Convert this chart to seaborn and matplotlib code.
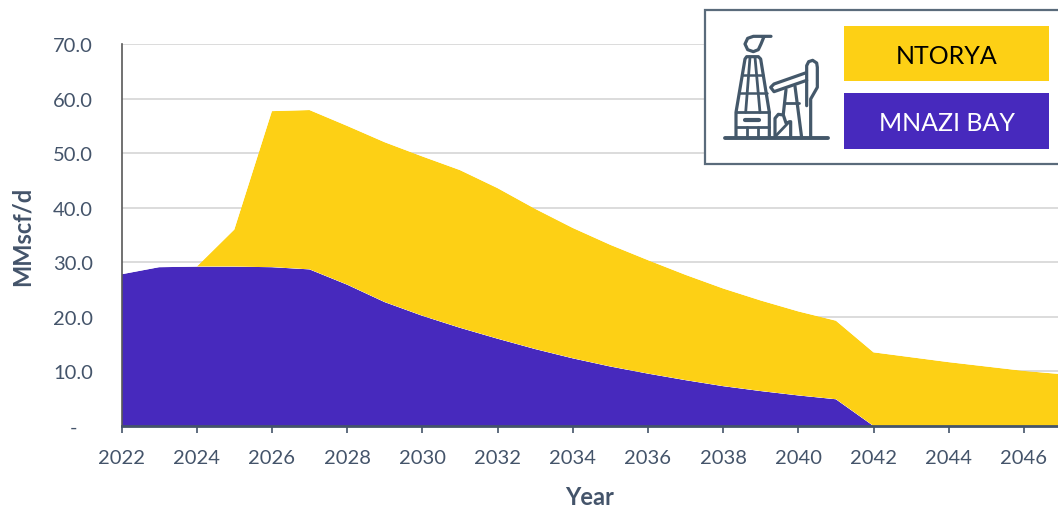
import numpy as np
import pandas as pd
import matplotlib
matplotlib.use('Agg')
import matplotlib.pyplot as plt
from matplotlib.patches import Rectangle
import seaborn as sns
import seaborn.objects as so

years = list(range(2022, 2048))
mnazi_bay = [27.8, 29.1, 29.2, 29.2, 29.1, 28.7, 25.9, 22.7, 20.2, 18.0, 16.0, 14.1, 12.4,
             10.9, 9.6, 8.4, 7.3, 6.4, 5.6, 4.9, 0, 0, 0, 0, 0, 0]
ntorya = [0, 0, 0, 6.8, 28.6, 29.2, 29.1, 29.3, 29.2, 28.9, 27.6, 25.7, 23.9,
          22.3, 20.8, 19.3, 17.9, 16.6, 15.4, 14.4, 13.5, 12.6, 11.7, 10.9, 10.1, 9.5]
y_ticks = [0, 10, 20, 30, 40, 50, 60, 70]
y_labels = ['-   ', '10.0', '20.0', '30.0', '40.0', '50.0', '60.0', '70.0']
x_ticks = list(range(2022, 2047, 2))

YELLOW = '#FDD015'
PURPLE = '#4729BD'
SLATE = '#44546A'
ICON = '#44586A'

sns.set_style('white')
plt.rcParams['font.family'] = ['Lato', 'DejaVu Sans']

df = pd.DataFrame({
    'year': years * 2,
    'value': mnazi_bay + ntorya,
    'field': ['MNAZI BAY'] * len(years) + ['NTORYA'] * len(years),
})

fig = plt.figure(figsize=(10.58, 5.06), dpi=100)
# axes placed in pixels so the year spacing matches the reference (cut at the right edge)
ax = fig.add_axes([121.5 / 1058, (506 - 427) / 506, (1058 - 121.5) / 1058, 382 / 506])

(
    so.Plot(df, x='year', y='value', color='field')
    .add(so.Area(alpha=1, edgewidth=0), so.Stack(), legend=False)
    .scale(color={'MNAZI BAY': PURPLE, 'NTORYA': YELLOW})
    .on(ax)
    .plot()
)

ax.set_xlim(2022, 2022 + (1058 - 121.5) / 37.6)
ax.set_ylim(0, 70)
ax.set_facecolor('white')
ax.set_axisbelow(True)
ax.yaxis.grid(True, color='#D9D9D9', linewidth=1.3)
ax.xaxis.grid(False)
ax.set_xticks(x_ticks)
ax.set_xticklabels([str(y) for y in x_ticks])
ax.set_yticks(y_ticks)
ax.set_yticklabels(y_labels)
ax.tick_params(axis='x', length=5, width=1.2, color=SLATE, labelcolor=SLATE, labelsize=14.5, pad=11.5, bottom=True)
ax.tick_params(axis='y', length=0, labelcolor=SLATE, labelsize=14.5, pad=20.5, left=False)
ax.set_xlabel('Year', fontsize=17, fontweight='bold', color=SLATE, labelpad=14)
ax.set_ylabel('MMscf/d', fontsize=17, fontweight='bold', color=SLATE, labelpad=14)
sns.despine(ax=ax, top=True, right=True)
ax.spines['left'].set_color('#595959')
ax.spines['left'].set_linewidth(1.2)
ax.spines['bottom'].set_color(SLATE)
ax.spines['bottom'].set_linewidth(2)
ax.spines['left'].set_zorder(5)
ax.spines['bottom'].set_zorder(5)

# overlay in reference pixel coordinates for the legend box and icon
ov = fig.add_axes([0, 0, 1, 1], zorder=10)
ov.set_xlim(0, 1058)
ov.set_ylim(506, 0)
ov.axis('off')
ov.patch.set_alpha(0)

ov.add_patch(Rectangle((705, 10.5), 360, 154, facecolor='white', edgecolor='#5A6B7B', linewidth=1.6))
ov.add_patch(Rectangle((844, 27), 205, 55, facecolor=YELLOW, edgecolor='none'))
ov.add_patch(Rectangle((844, 94), 205, 56, facecolor=PURPLE, edgecolor='none'))
ov.text(947, 56, 'NTORYA', ha='center', va='center', fontsize=18, color='black')
ov.text(947, 123, 'MNAZI BAY', ha='center', va='center', fontsize=18, color='white')


def icon_line(points, lw=2.3):
    xs = [700 + p[0] / 3 for p in points]
    ys = [p[1] / 3 for p in points]
    ov.plot(xs, ys, color=ICON, linewidth=lw, solid_capstyle='round', solid_joinstyle='round')


# ground
icon_line([(75, 416), (385, 416)], 2.8)
# flare
icon_line([(213, 112), (160, 112), (143, 118), (135, 135), (143, 152), (160, 158),
           (175, 152), (183, 135), (192, 113)])
# derrick
icon_line([(108, 416), (108, 340), (135, 180), (140, 173), (175, 173), (182, 180), (208, 340), (208, 416)])
icon_line([(150, 175), (137, 340)], 2.0)
icon_line([(165, 175), (180, 340)], 2.0)
icon_line([(125, 228), (190, 228)], 1.8)
icon_line([(116, 282), (200, 282)], 1.8)
icon_line([(108, 340), (208, 340)], 2.0)
icon_line([(108, 385), (208, 385)], 2.0)
icon_line([(135, 362), (177, 362)], 3.0)
icon_line([(140, 385), (140, 416)], 2.0)
icon_line([(175, 385), (175, 416)], 2.0)
# pump beam and head
icon_line([(316, 222), (222, 255), (212, 265), (222, 278), (320, 244)])
icon_line([(320, 320), (320, 200), (326, 188), (338, 184), (350, 192), (352, 205),
           (352, 265), (332, 300), (332, 416)])
# pump frame
icon_line([(258, 272), (250, 345)])
icon_line([(285, 262), (305, 416)])
icon_line([(254, 312), (296, 312)], 2.0)
# counterweight
icon_line([(225, 416), (225, 358), (235, 346), (250, 348), (258, 372), (272, 368), (272, 416)])
icon_line([(228, 410), (268, 368)], 2.0)

fig.savefig('out.png', dpi=100)
